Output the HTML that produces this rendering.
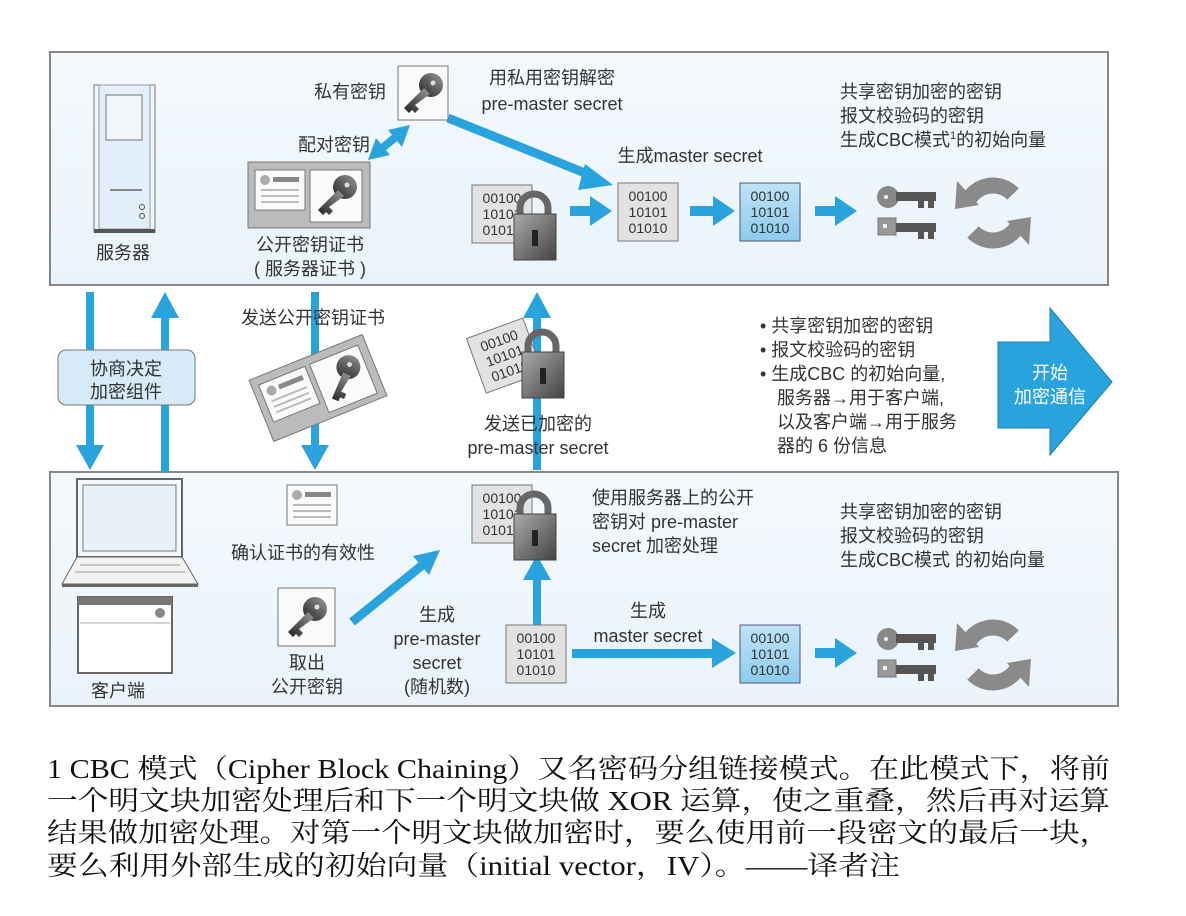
<!DOCTYPE html>
<html><head><meta charset="utf-8"><style>
html,body{margin:0;padding:0;background:#fff;width:1186px;height:916px;overflow:hidden}
svg text{font-family:"Liberation Sans","Noto Sans CJK SC",sans-serif;fill:#333}
</style></head><body>
<svg width="1186" height="916" viewBox="0 0 1186 916" xmlns="http://www.w3.org/2000/svg">
<defs>
<linearGradient id="pbg" x1="0" y1="0" x2="0" y2="1"><stop offset="0" stop-color="#f4f9fd"/><stop offset="1" stop-color="#e9f3fa"/></linearGradient>
<linearGradient id="lockg" x1="0" y1="0" x2="1" y2="1"><stop offset="0" stop-color="#aaa"/><stop offset="0.5" stop-color="#777"/><stop offset="1" stop-color="#444"/></linearGradient>
<linearGradient id="keyg" x1="1" y1="0" x2="0" y2="1"><stop offset="0" stop-color="#999"/><stop offset="1" stop-color="#222"/></linearGradient>
<linearGradient id="blueg" x1="0" y1="0" x2="0" y2="1"><stop offset="0" stop-color="#bfe3f7"/><stop offset="1" stop-color="#8ccbef"/></linearGradient>
<g id="key">
<circle cx="33" cy="15" r="12" fill="url(#keyg)"/>
<circle cx="35" cy="13" r="2.5" fill="#ddd"/>
<path d="M26 18 L6 38 L11 43 L14 40 L17 43 L21 39 L17 35 L32 24 Z" fill="url(#keyg)"/>
</g>
<g id="lock">
<path d="M6 24 V16 A14 14 0 0 1 34 16 V24" fill="none" stroke="#666" stroke-width="7"/>
<rect x="0" y="22" width="42" height="46" fill="url(#lockg)" stroke="#444" stroke-width="1"/>
<rect x="18" y="38" width="6" height="16" fill="#222"/>
</g>
<g id="keys2">
<circle cx="10" cy="12" r="11" fill="#888"/><circle cx="8" cy="12" r="2" fill="#eee"/>
<rect x="18" y="7" width="40" height="9" fill="#555"/>
<rect x="40" y="14" width="6" height="9" fill="#555"/><rect x="50" y="14" width="6" height="9" fill="#555"/>
<rect x="0" y="33" width="18" height="17" fill="#999" stroke="#777"/><rect x="5" y="39" width="4" height="4" fill="#eee"/>
<rect x="18" y="38" width="40" height="9" fill="#555"/>
<rect x="40" y="45" width="6" height="9" fill="#555"/><rect x="50" y="45" width="6" height="9" fill="#555"/>
</g>
<g id="refresh">
<path d="M-26 -10 A28 28 0 0 1 20 -19" fill="none" stroke="#8a8a8a" stroke-width="16"/>
<path d="M26 10 A28 28 0 0 1 -20 19" fill="none" stroke="#8a8a8a" stroke-width="16"/>
<polygon points="-38,-4 -14,-8 -36,-32" fill="#8a8a8a"/>
<polygon points="38,4 14,8 36,32" fill="#8a8a8a"/>
</g>
<g id="binG">
<rect x="0" y="0" width="60" height="58" fill="#e2e2e2" stroke="#777"/>
<text x="30" y="18" font-size="14" text-anchor="middle" fill="#999">00100</text>
<text x="30" y="34" font-size="14" text-anchor="middle" fill="#999">10101</text>
<text x="30" y="50" font-size="14" text-anchor="middle" fill="#999">01010</text>
</g>
<g id="binB">
<rect x="0" y="0" width="60" height="58" fill="url(#blueg)" stroke="#557"/>
<text x="30" y="18" font-size="14" text-anchor="middle" fill="#2a7fb8">00100</text>
<text x="30" y="34" font-size="14" text-anchor="middle" fill="#2a7fb8">10101</text>
<text x="30" y="50" font-size="14" text-anchor="middle" fill="#2a7fb8">01010</text>
</g>
<g id="card">
<rect x="0" y="0" width="50" height="40" fill="#fafafa" stroke="#777"/>
<circle cx="10" cy="10" r="5" fill="#aaa"/>
<rect x="18" y="7" width="26" height="5" fill="#888"/>
<rect x="6" y="19" width="38" height="2" fill="#bbb"/><rect x="6" y="25" width="38" height="2" fill="#bbb"/><rect x="6" y="31" width="38" height="2" fill="#bbb"/>
</g>
<g id="cert">
<rect x="0" y="0" width="122" height="66" fill="#bbb" stroke="#777"/>
<use href="#card" x="7" y="8"/>
<rect x="62" y="8" width="52" height="52" fill="#fafafa" stroke="#777"/>
<use href="#key" x="64" y="10"/>
</g>
</defs>

<rect x="50" y="52" width="1058" height="233" fill="url(#pbg)" stroke="#888" stroke-width="2"/>
<rect x="50" y="472" width="1068" height="234" fill="url(#pbg)" stroke="#888" stroke-width="2"/>

<g fill="#29a3dd" stroke="none">
<rect x="86" y="292" width="8" height="155"/><polygon points="76,445 104,445 90,470"/>
<rect x="161" y="315" width="8" height="157"/><polygon points="151,318 179,318 165,292"/>
<rect x="311" y="292" width="8" height="155"/><polygon points="301,445 329,445 315,470"/>
<rect x="533" y="315" width="8" height="155"/><polygon points="523,318 551,318 537,292"/>
<rect x="533" y="575" width="8" height="50"/><polygon points="523,580 551,580 537,555"/>
<rect x="570" y="206" width="22" height="10"/><polygon points="590,196 612,211 590,226"/>
<rect x="690" y="206" width="25" height="10"/><polygon points="713,196 735,211 713,226"/>
<rect x="815" y="206" width="22" height="10"/><polygon points="835,196 857,211 835,226"/>
<rect x="572" y="649" width="145" height="9"/><polygon points="712,638 736,653 712,668"/>
<rect x="815" y="648" width="22" height="10"/><polygon points="835,638 857,653 835,668"/>
</g>
<line x1="448" y1="118" x2="595" y2="177" stroke="#29a3dd" stroke-width="9"/>
<polygon points="613,185 585,164 578,190" fill="#29a3dd"/>
<line x1="352" y1="622" x2="425" y2="563" stroke="#29a3dd" stroke-width="9"/>
<polygon points="440,550 413,556 429,575" fill="#29a3dd"/>
<line x1="380" y1="150" x2="398" y2="135" stroke="#29a3dd" stroke-width="8"/>
<polygon points="368,160 376,138 390,155" fill="#29a3dd"/>
<polygon points="410,125 388,130 402,147" fill="#29a3dd"/>

<rect x="94" y="85" width="61" height="147" fill="#eef6fc" stroke="#777"/>
<rect x="99" y="85" width="51" height="144" fill="#e2effa" stroke="#999"/>
<rect x="106" y="95" width="36" height="45" fill="#f2f7fb" stroke="#777"/>
<line x1="110" y1="190" x2="142" y2="190" stroke="#666" stroke-width="1.5"/>
<circle cx="142" cy="207" r="2.5" fill="none" stroke="#555"/><circle cx="142" cy="216" r="2.5" fill="none" stroke="#555"/>
<rect x="94" y="229" width="61" height="4" fill="#555"/>
<text x="123" y="259" font-size="18" text-anchor="middle">服务器</text>

<use href="#cert" x="248" y="162"/>
<text x="310" y="251" font-size="18" text-anchor="middle">公开密钥证书</text>
<text x="310" y="275" font-size="18" text-anchor="middle">( 服务器证书 )</text>
<rect x="398" y="66" width="50" height="54" fill="#fafafa" stroke="#777"/>
<use href="#key" x="398" y="70"/>
<text x="386" y="98" font-size="18" text-anchor="end">私有密钥</text>
<text x="370" y="151" font-size="18" text-anchor="end">配对密钥</text>
<text x="552" y="84" font-size="18" text-anchor="middle">用私用密钥解密</text>
<text x="552" y="110" font-size="18" text-anchor="middle">pre-master secret</text>
<text x="690" y="162" font-size="18" text-anchor="middle">生成master secret</text>

<use href="#binG" x="472" y="185"/>
<use href="#lock" x="514" y="192"/>
<use href="#binG" x="618" y="183"/>
<use href="#binB" x="740" y="183"/>
<use href="#keys2" x="878" y="185"/>
<use href="#refresh" x="993" y="213"/>
<text x="840" y="98" font-size="18">共享密钥加密的密钥</text>
<text x="840" y="122" font-size="18">报文校验码的密钥</text>
<text x="840" y="146" font-size="18">生成CBC模式<tspan font-size="11" dy="-7">1</tspan><tspan dy="7">的初始向量</tspan></text>

<rect x="58" y="350" width="137" height="55" rx="8" fill="#d6eaf7" stroke="#777"/>
<text x="126" y="375" font-size="18" text-anchor="middle">协商决定</text>
<text x="126" y="398" font-size="18" text-anchor="middle">加密组件</text>
<text x="313" y="324" font-size="18" text-anchor="middle">发送公开密钥证书</text>
<g transform="translate(318,388) rotate(-22) translate(-61,-33)"><use href="#cert"/></g>
<g transform="translate(515,355) rotate(-20) translate(-40,-32)"><use href="#binG"/></g>
<use href="#lock" x="522" y="330"/>
<text x="538" y="430" font-size="18" text-anchor="middle">发送已加密的</text>
<text x="538" y="454" font-size="18" text-anchor="middle">pre-master secret</text>

<g font-size="18">
<text x="760" y="332">• 共享密钥加密的密钥</text>
<text x="760" y="356">• 报文校验码的密钥</text>
<text x="760" y="380">• 生成CBC 的初始向量,</text>
<text x="777" y="404">服务器→用于客户端,</text>
<text x="777" y="428">以及客户端→用于服务</text>
<text x="777" y="452">器的 6 份信息</text>
</g>
<polygon points="998,342 1050,342 1050,308 1112,382 1050,455 1050,428 998,428" fill="#29a3dd" stroke="#1d7fb0"/>
<text x="1050" y="379" font-size="18" text-anchor="middle" style="fill:#fff">开始</text>
<text x="1050" y="403" font-size="18" text-anchor="middle" style="fill:#fff">加密通信</text>

<rect x="77" y="479" width="105" height="78" fill="#f4f8fb" stroke="#666" stroke-width="2"/>
<rect x="83" y="485" width="93" height="66" fill="#e6f1f9" stroke="#777"/>
<polygon points="77,557 182,557 198,584 62,584" fill="#f2f2f2" stroke="#666"/>
<line x1="80" y1="565" x2="180" y2="565" stroke="#999"/><line x1="75" y1="572" x2="185" y2="572" stroke="#999"/>
<rect x="62" y="584" width="136" height="3" fill="#666"/>
<rect x="78" y="597" width="94" height="76" fill="#fff" stroke="#666" stroke-width="2"/>
<rect x="78" y="597" width="94" height="8" fill="#777"/>
<line x1="80" y1="623" x2="170" y2="623" stroke="#aaa"/>
<circle cx="160" cy="613" r="5" fill="#888"/>
<text x="118" y="697" font-size="18" text-anchor="middle">客户端</text>

<use href="#card" x="287" y="485"/>
<text x="303" y="559" font-size="18" text-anchor="middle">确认证书的有效性</text>
<rect x="278" y="588" width="57" height="58" fill="#fafafa" stroke="#777"/>
<use href="#key" x="282" y="594"/>
<text x="307" y="669" font-size="18" text-anchor="middle">取出</text>
<text x="307" y="693" font-size="18" text-anchor="middle">公开密钥</text>
<text x="437" y="621" font-size="18" text-anchor="middle">生成</text>
<text x="437" y="645" font-size="18" text-anchor="middle">pre-master</text>
<text x="437" y="669" font-size="18" text-anchor="middle">secret</text>
<text x="437" y="693" font-size="18" text-anchor="middle">(随机数)</text>

<use href="#binG" x="506" y="625"/>
<use href="#binG" x="472" y="485"/>
<use href="#lock" x="514" y="492"/>
<text x="592" y="504" font-size="18">使用服务器上的公开</text>
<text x="592" y="528" font-size="18">密钥对 pre-master</text>
<text x="592" y="552" font-size="18">secret 加密处理</text>
<text x="648" y="617" font-size="18" text-anchor="middle">生成</text>
<text x="648" y="642" font-size="18" text-anchor="middle">master secret</text>
<use href="#binB" x="740" y="625"/>
<use href="#keys2" x="878" y="627"/>
<use href="#refresh" x="993" y="655"/>
<text x="840" y="518" font-size="18">共享密钥加密的密钥</text>
<text x="840" y="542" font-size="18">报文校验码的密钥</text>
<text x="840" y="566" font-size="18">生成CBC模式 的初始向量</text>

<g font-size="27">
<text x="47" y="778" textLength="1063" lengthAdjust="spacingAndGlyphs" style="font-family:'Liberation Serif','Noto Serif CJK SC',serif;fill:#111">1 CBC 模式（Cipher Block Chaining）又名密码分组链接模式。在此模式下，将前</text>
<text x="47" y="810" textLength="1063" lengthAdjust="spacingAndGlyphs" style="font-family:'Liberation Serif','Noto Serif CJK SC',serif;fill:#111">一个明文块加密处理后和下一个明文块做 XOR 运算，使之重叠，然后再对运算</text>
<text x="47" y="842" textLength="1063" lengthAdjust="spacingAndGlyphs" style="font-family:'Liberation Serif','Noto Serif CJK SC',serif;fill:#111">结果做加密处理。对第一个明文块做加密时，要么使用前一段密文的最后一块，</text>
<text x="47" y="875" textLength="853" lengthAdjust="spacingAndGlyphs" style="font-family:'Liberation Serif','Noto Serif CJK SC',serif;fill:#111">要么利用外部生成的初始向量（initial vector，IV）。——译者注</text>
</g>
</svg>
</body></html>
